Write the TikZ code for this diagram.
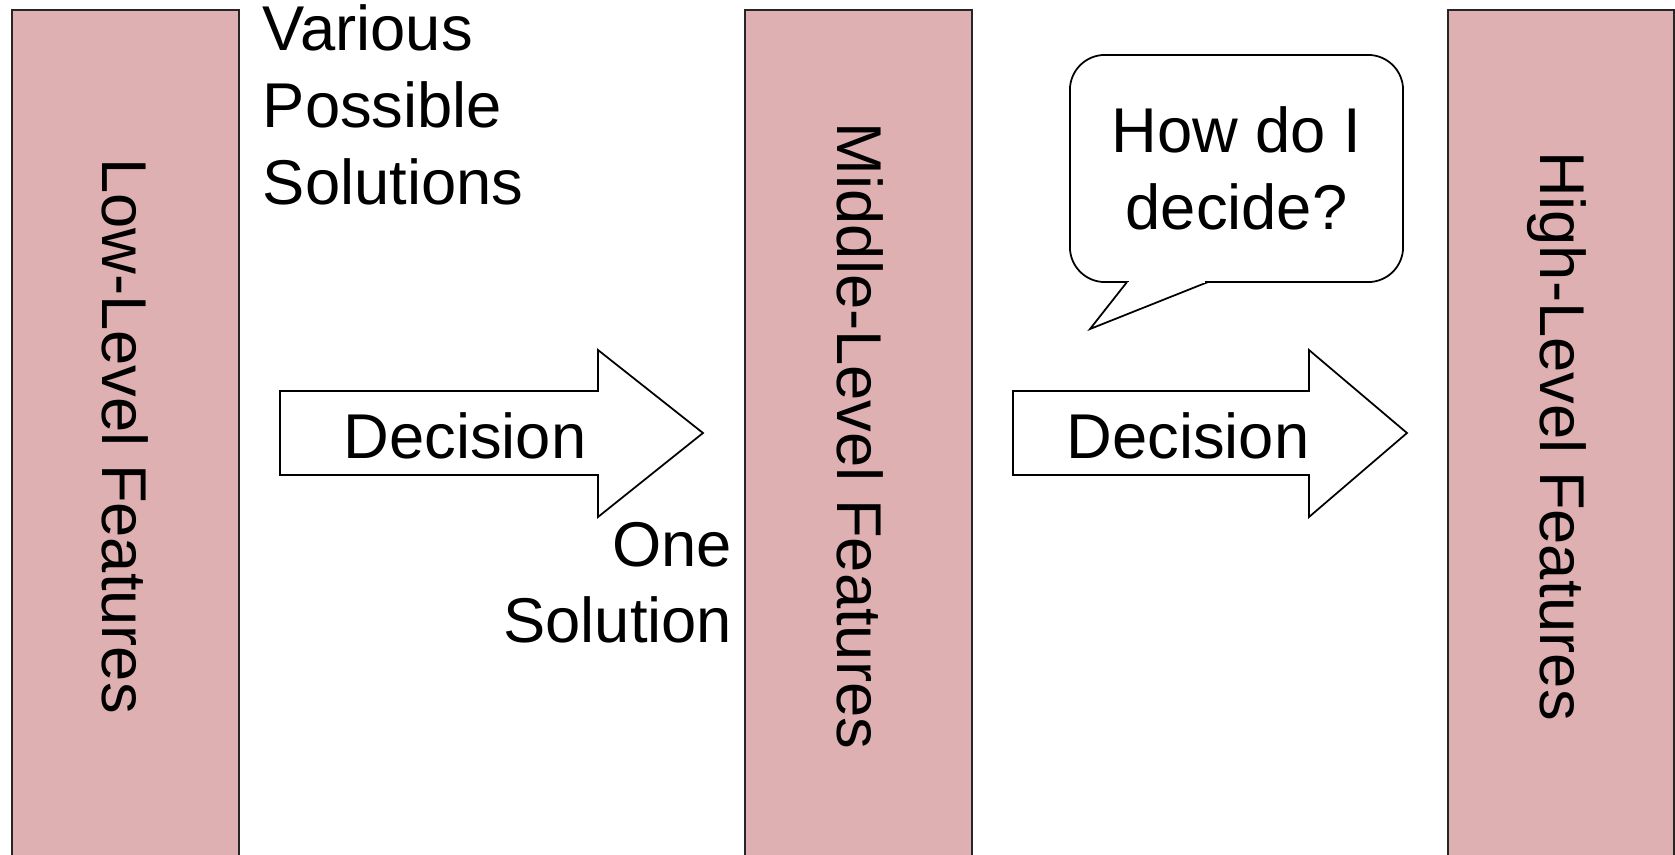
\documentclass[tikz,border=0pt]{standalone}
\usepackage{fontspec}
\setmainfont{Liberation Sans}
\usepackage{xcolor}
\definecolor{DustyPink}{RGB}{223, 176, 177}

\begin{document}
\begin{tikzpicture}[x = 0.01cm, y = -0.01cm, line width = 0.5pt,
    every node/.style = {font = \fontsize{18}{21.8}\selectfont, inner sep = 0pt},
    bar/.style = {fill = DustyPink, draw = black!85},
    bartext/.style = {rotate = -90, anchor = base},
    blockarrow/.style = {draw = black, fill = white, line join = miter}]
            \useasboundingbox (0, 0) rectangle (1675, 854);
            \clip (0, 0) rectangle (1675, 854);
            %画三个竖条
            \foreach \xl/\xr in {12/239, 745/972, 1448/1674}
                \filldraw[bar] (\xl, 10) rectangle (\xr, 880);
            \node[bartext] (low) at (102, 436) {Low-Level Features};
            \node[bartext] (middle) at (837, 436) {Middle-Level Features};
            \node[bartext] (high) at (1540, 436) {High-Level Features};
            %画两个箭头
            \foreach \xa/\xb/\xc in {280/598/703, 1013/1309/1407}
                \draw[blockarrow] (\xa, 391) -- (\xb, 391) -- (\xb, 350) -- (\xc, 433)
                    -- (\xb, 517) -- (\xb, 475) -- (\xa, 475) -- cycle;
            \node[anchor = base] (decision1) at (465, 458) {Decision};
            \node[anchor = base] (decision2) at (1188, 458) {Decision};
            %标注文字
            \node[anchor = north west, align = left] (various) at (262, 4) {Various\\Possible\\Solutions};
            \node[anchor = north east, align = right] (one) at (733, 521) {One\\Solution};
            %对话框
            \node[draw, fill = white, rounded corners = 0.35cm, minimum width = 3.33cm,
                minimum height = 2.27cm, align = center] (bubble) at (1236.5, 168.5) {How do I\\decide?};
            \filldraw[fill = white] (1127, 282) -- (1090, 329) -- (1208, 282);
            \fill[white] (1129, 279.5) rectangle (1205, 282.5);
        \end{tikzpicture}
\end{document}
